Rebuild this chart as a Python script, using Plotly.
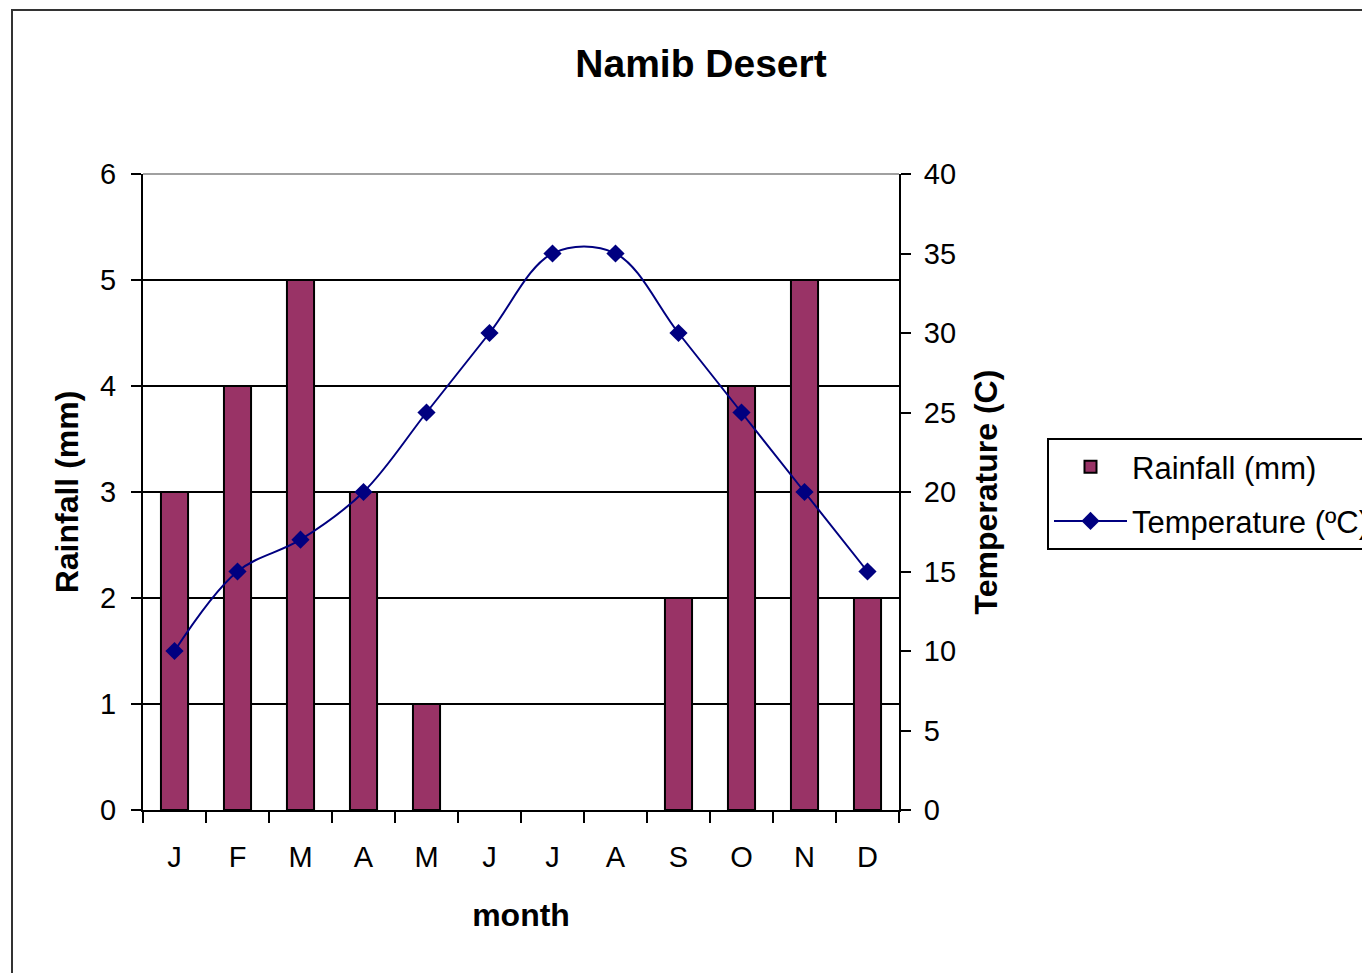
import plotly.graph_objects as go

months = ["J", "F", "M", "A", "M", "J", "J", "A", "S", "O", "N", "D"]
rainfall = [3, 4, 5, 3, 1, 0, 0, 0, 2, 4, 5, 2]
temperature = [10, 15, 17, 20, 25, 30, 35, 35, 30, 25, 20, 15]
rain_ticks = [0, 1, 2, 3, 4, 5, 6]
temp_ticks = [0, 5, 10, 15, 20, 25, 30, 35, 40]

pos = list(range(len(months)))
bounds = [i - 0.5 for i in range(len(months) + 1)]

FONT = "Liberation Sans, Arial, sans-serif"
fig = go.Figure()
fig.add_trace(go.Bar(
    x=pos, y=rainfall, name="Rainfall (mm)", width=0.43,
    marker=dict(color="#993366",
                line=dict(color="black", width=[2 if v > 0 else 0 for v in rainfall])),
    legendgroup="a",
))
fig.add_trace(go.Scatter(
    x=pos, y=temperature, name="Temperature (ºC)", yaxis="y2",
    mode="lines+markers",
    line=dict(color="#000080", width=2, shape="spline", smoothing=1),
    marker=dict(symbol="diamond", size=14, color="#000080"),
    legendgroup="b",
))

W, H = 1370, 973
OFF = 8  # page body offset
L, R, T, B = 143 - OFF, 899 - OFF, 174 - OFF, 810 - OFF
def px_x(p):
    return (p - OFF - L) / (R - L)
def px_y(p):
    return (B - (p - OFF)) / (B - T)

tickfont = dict(family=FONT, size=29, color="black")
titlefont = dict(family=FONT, size=32, color="black")

fig.update_layout(
    width=W, height=H,
    margin=dict(l=L, r=W - R, t=T, b=H - B, autoexpand=False),
    paper_bgcolor="white", plot_bgcolor="white",
    title=dict(text="<b>Namib Desert</b>", x=(701 - OFF) / W, xanchor="center",
               y=1 - (63 - OFF) / H, yanchor="middle",
               font=dict(family=FONT, size=39, color="black")),
    xaxis=dict(
        range=[-0.5, 11.5], tickmode="array", tickvals=pos, ticktext=months,
        ticks="", ticklabelstandoff=20, tickfont=tickfont,
        showline=True, linecolor="black", linewidth=2, showgrid=False, zeroline=False,
        minor=dict(tickmode="array", tickvals=bounds, ticks="outside", ticklen=11,
                   tickwidth=2, tickcolor="black", showgrid=False),
        title=dict(text="<b>month</b>", font=titlefont, standoff=32),
    ),
    xaxis2=dict(
        overlaying="x", matches="x", range=[-0.5, 11.5], tickmode="array",
        tickvals=bounds, ticks="inside", ticklen=7, tickwidth=2, tickcolor="black",
        showticklabels=False, showline=False, showgrid=False, zeroline=False,
    ),
    yaxis=dict(
        range=[0, 6], tickmode="array", tickvals=rain_ticks, tickfont=tickfont,
        ticks="outside", ticklen=10, tickwidth=2, tickcolor="black", ticklabelstandoff=9,
        showline=True, linecolor="black", linewidth=2, showgrid=False, zeroline=False,
        minor=dict(tickmode="array", tickvals=rain_ticks[1:-1], showgrid=True,
                   gridcolor="black", gridwidth=2, ticks=""),
        title=dict(text="<b>Rainfall (mm)</b>", font=titlefont, standoff=12),
    ),
    yaxis3=dict(
        overlaying="y", side="left", range=[0, 6], tickmode="array", tickvals=rain_ticks,
        ticks="inside", ticklen=9, tickwidth=2, tickcolor="black",
        showticklabels=False, showline=False, showgrid=False, zeroline=False,
    ),
    yaxis2=dict(
        overlaying="y", side="right", range=[0, 40], tickmode="array", tickvals=temp_ticks,
        tickfont=tickfont, ticks="outside", ticklen=10, tickwidth=2, tickcolor="black",
        ticklabelstandoff=7,
        showline=True, linecolor="black", linewidth=2, showgrid=False, zeroline=False,
        title=dict(text="<b>Temperature (C)</b>", font=titlefont, standoff=20),
    ),
    yaxis4=dict(
        overlaying="y", side="right", range=[0, 40], tickmode="array", tickvals=temp_ticks,
        ticks="inside", ticklen=10, tickwidth=2, tickcolor="black",
        showticklabels=False, showline=False, showgrid=False, zeroline=False,
    ),
    showlegend=True,
    legend=dict(
        x=px_x(1047), y=px_y(438), xanchor="left", yanchor="top",
        bordercolor="black", borderwidth=2, bgcolor="white",
        font=dict(family=FONT, size=31, color="black"),
        itemwidth=73, tracegroupgap=11, traceorder="grouped",
    ),
    shapes=[
        dict(type="line", xref="paper", yref="paper", x0=0, x1=1, y0=1, y1=1,
             line=dict(color="#a0a0a0", width=2)),
        dict(type="rect", xref="paper", yref="paper",
             x0=px_x(12), x1=px_x(1400), y0=px_y(1000), y1=px_y(10),
             line=dict(color="#333333", width=2), fillcolor="rgba(0,0,0,0)"),
    ],
)

fig.write_html("out.html")
